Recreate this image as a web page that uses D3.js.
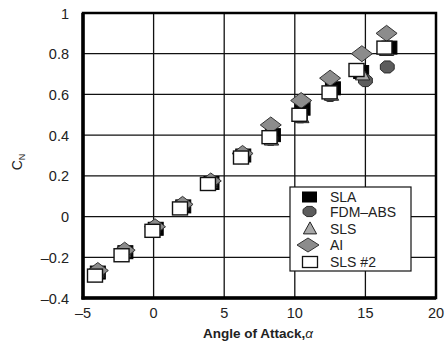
<!DOCTYPE html>
<html><head><meta charset="utf-8">
<script src="https://cdn.jsdelivr.net/npm/d3@7"></script>
<style>body{margin:0;background:#fff}svg{display:block}</style>
</head><body>
<script>
const xTicks = [-5, 0, 5, 10, 15, 20];
const yTicks = [-0.4, -0.2, 0, 0.2, 0.4, 0.6, 0.8, 1];
const seriesNames = ["SLA", "FDM\u2013ABS", "SLS", "AI", "SLS #2"];
const slaX = [-3.95, -2.0, 0.15, 2.1, 4.1, 6.35, 8.45, 10.55, 12.7, 14.7, 16.7];
const slaY = [-0.275, -0.175, -0.06, 0.05, 0.165, 0.30, 0.40, 0.53, 0.63, 0.71, 0.83];
const fdmX = [-4.0, -2.1, 0.0, 2.0, 4.0, 6.2, 8.3, 10.4, 12.5, 15.0, 16.55];
const fdmY = [-0.28, -0.18, -0.06, 0.05, 0.16, 0.29, 0.38, 0.49, 0.595, 0.668, 0.735];
const slsX = [-4.0, -2.1, 0.0, 2.0, 4.0, 6.2, 8.35, 10.5, 12.6, 14.8, 16.5];
const slsY = [-0.27, -0.17, -0.05, 0.06, 0.17, 0.30, 0.38, 0.49, 0.60, 0.70, 0.82];
const aiX = [-3.95, -2.05, 0.1, 2.05, 4.05, 6.3, 8.3, 10.45, 12.5, 14.75, 16.5];
const aiY = [-0.265, -0.165, -0.05, 0.06, 0.175, 0.31, 0.45, 0.57, 0.68, 0.80, 0.90];
const sls2X = [-4.15, -2.27, -0.08, 1.87, 3.85, 6.19, 8.21, 10.33, 12.46, 14.37, 16.35];
const sls2Y = [-0.29, -0.19, -0.07, 0.04, 0.16, 0.29, 0.39, 0.50, 0.61, 0.72, 0.83];

const W = 445, H = 345;
const L = 83, R = 436, T = 13, B = 298;
const svg = d3.select("body").append("svg").attr("width", W).attr("height", H);
const x = d3.scaleLinear().domain([-5, 20]).range([L, R]);
const y = d3.scaleLinear().domain([-0.4, 1]).range([B, T]);
const font = "'Liberation Sans', Arial, sans-serif";

// grid
svg.append("g").selectAll("line").data(xTicks).join("line")
  .attr("x1", d => x(d)).attr("x2", d => x(d)).attr("y1", T).attr("y2", B)
  .attr("stroke", "#111").attr("stroke-width", 1.3);
svg.append("g").selectAll("line").data(yTicks).join("line")
  .attr("y1", d => y(d)).attr("y2", d => y(d)).attr("x1", L).attr("x2", R)
  .attr("stroke", "#111").attr("stroke-width", 1.3);

// tick labels
const fmtY = d => (d < 0 ? "\u2013" + Math.abs(d) : String(+d.toFixed(1)));
const fmtX = d => (d < 0 ? "\u2013" + Math.abs(d) : String(d));
svg.append("g").selectAll("text").data(xTicks).join("text")
  .attr("x", d => x(d)).attr("y", 318).attr("text-anchor", "middle")
  .attr("font-family", font).attr("font-size", 14.5).attr("fill", "#222").text(fmtX);
svg.append("g").selectAll("text").data(yTicks).join("text")
  .attr("x", 69).attr("y", d => y(d) + 5.5).attr("text-anchor", "end")
  .attr("font-family", font).attr("font-size", 14.5).attr("fill", "#222").text(fmtY);

// data markers
function diamond(cx, cy, w, h) {
  return `M${cx},${cy - h / 2}L${cx + w / 2},${cy}L${cx},${cy + h / 2}L${cx - w / 2},${cy}Z`;
}
function tri(cx, cy, s) {
  return `M${cx},${cy - s * 0.55}L${cx + s * 0.55},${cy + s * 0.45}L${cx - s * 0.55},${cy + s * 0.45}Z`;
}
function octagon(cx, cy, rx, ry) {
  const pts = d3.range(8).map(i => {
    const a = Math.PI / 8 + i * Math.PI / 4;
    return [cx + rx * Math.cos(a), cy + ry * Math.sin(a)];
  });
  return "M" + pts.map(p => p.join(",")).join("L") + "Z";
}
const zip = (a, b) => a.map((v, i) => [v, b[i]]);
const plot = svg.append("g");

const drawers = {
  sla: (g, px, py) => g.append("rect").attr("x", px - 7.5).attr("y", py - 6.5).attr("width", 15).attr("height", 13)
      .attr("fill", "#000").attr("stroke", "#000"),
  fdm: (g, px, py) => g.append("path").attr("d", octagon(px, py, 7.5, 6.5))
      .attr("fill", "#5c5c5c").attr("stroke", "#2a2a2a").attr("stroke-width", 1),
  sls: (g, px, py) => g.append("path").attr("d", tri(px, py, 13))
      .attr("fill", "#a8a8a8").attr("stroke", "#222").attr("stroke-width", 1),
  ai: (g, px, py) => g.append("path").attr("d", diamond(px, py, 21, 16))
      .attr("fill", "#8c8c8c").attr("stroke", "#333").attr("stroke-width", 1),
  sls2: (g, px, py) => g.append("rect").attr("x", px - 7.5).attr("y", py - 6.5).attr("width", 15).attr("height", 13)
      .attr("fill", "#fff").attr("stroke", "#111").attr("stroke-width", 1.4)
};
const series = [
  ["sla", zip(slaX, slaY)], ["fdm", zip(fdmX, fdmY)], ["sls", zip(slsX, slsY)],
  ["ai", zip(aiX, aiY)], ["sls2", zip(sls2X, sls2Y)]
];
series.forEach(([k, pts]) => pts.forEach(([a, b]) => drawers[k](plot, x(a), y(b))));

// frame
svg.append("rect").attr("x", L).attr("y", T).attr("width", R - L).attr("height", B - T)
  .attr("fill", "none").attr("stroke", "#000").attr("stroke-width", 2.5);
svg.append("line").attr("x1", L).attr("x2", L).attr("y1", T).attr("y2", B + 1.5).attr("stroke", "#000").attr("stroke-width", 3.5);
svg.append("line").attr("x1", L - 1.5).attr("x2", R).attr("y1", B).attr("y2", B).attr("stroke", "#000").attr("stroke-width", 3.5);

// legend
const lx = 290, ly = 187, lw = 121, lh = 84;
const lg = svg.append("g");
lg.append("rect").attr("x", lx).attr("y", ly).attr("width", lw).attr("height", lh)
  .attr("fill", "#fff").attr("stroke", "#111").attr("stroke-width", 1.2);
const rowY = [197, 211.5, 228.5, 245, 262];
const sym = lg.append("g");
sym.append("rect").attr("x", 302).attr("y", rowY[0] - 5.5).attr("width", 15).attr("height", 11).attr("fill", "#000");
sym.append("path").attr("d", octagon(309.5, rowY[1], 7, 5.5)).attr("fill", "#5c5c5c").attr("stroke", "#2a2a2a");
sym.append("path").attr("d", tri(310, rowY[2], 12)).attr("fill", "#a8a8a8").attr("stroke", "#222");
sym.append("path").attr("d", diamond(308, rowY[3], 22, 14)).attr("fill", "#8c8c8c").attr("stroke", "#333");
sym.append("rect").attr("x", 302.5).attr("y", rowY[4] - 5.5).attr("width", 15).attr("height", 11)
  .attr("fill", "#fff").attr("stroke", "#111").attr("stroke-width", 1.3);
lg.selectAll("text.lab").data(seriesNames).join("text").attr("class", "lab")
  .attr("x", 330).attr("y", (d, i) => rowY[i] + 5)
  .attr("font-family", font).attr("font-size", 14).attr("fill", "#222")
  .attr("textLength", d => null).text(d => d);

// axis titles
const xt = svg.append("text").attr("x", 258).attr("y", 338).attr("text-anchor", "middle")
  .attr("font-family", font).attr("font-size", 13.5).attr("font-weight", "bold").attr("fill", "#222");
xt.append("tspan").text("Angle of Attack,");
xt.append("tspan").attr("font-weight", "normal").attr("font-style", "italic").text("\u03B1");

const yt = svg.append("text").attr("transform", "translate(22,162) rotate(-90)").attr("text-anchor", "middle")
  .attr("font-family", font).attr("font-size", 14).attr("fill", "#222");
yt.append("tspan").text("C");
yt.append("tspan").attr("font-size", 9).attr("dy", 3).text("N");
</script>
</body></html>
